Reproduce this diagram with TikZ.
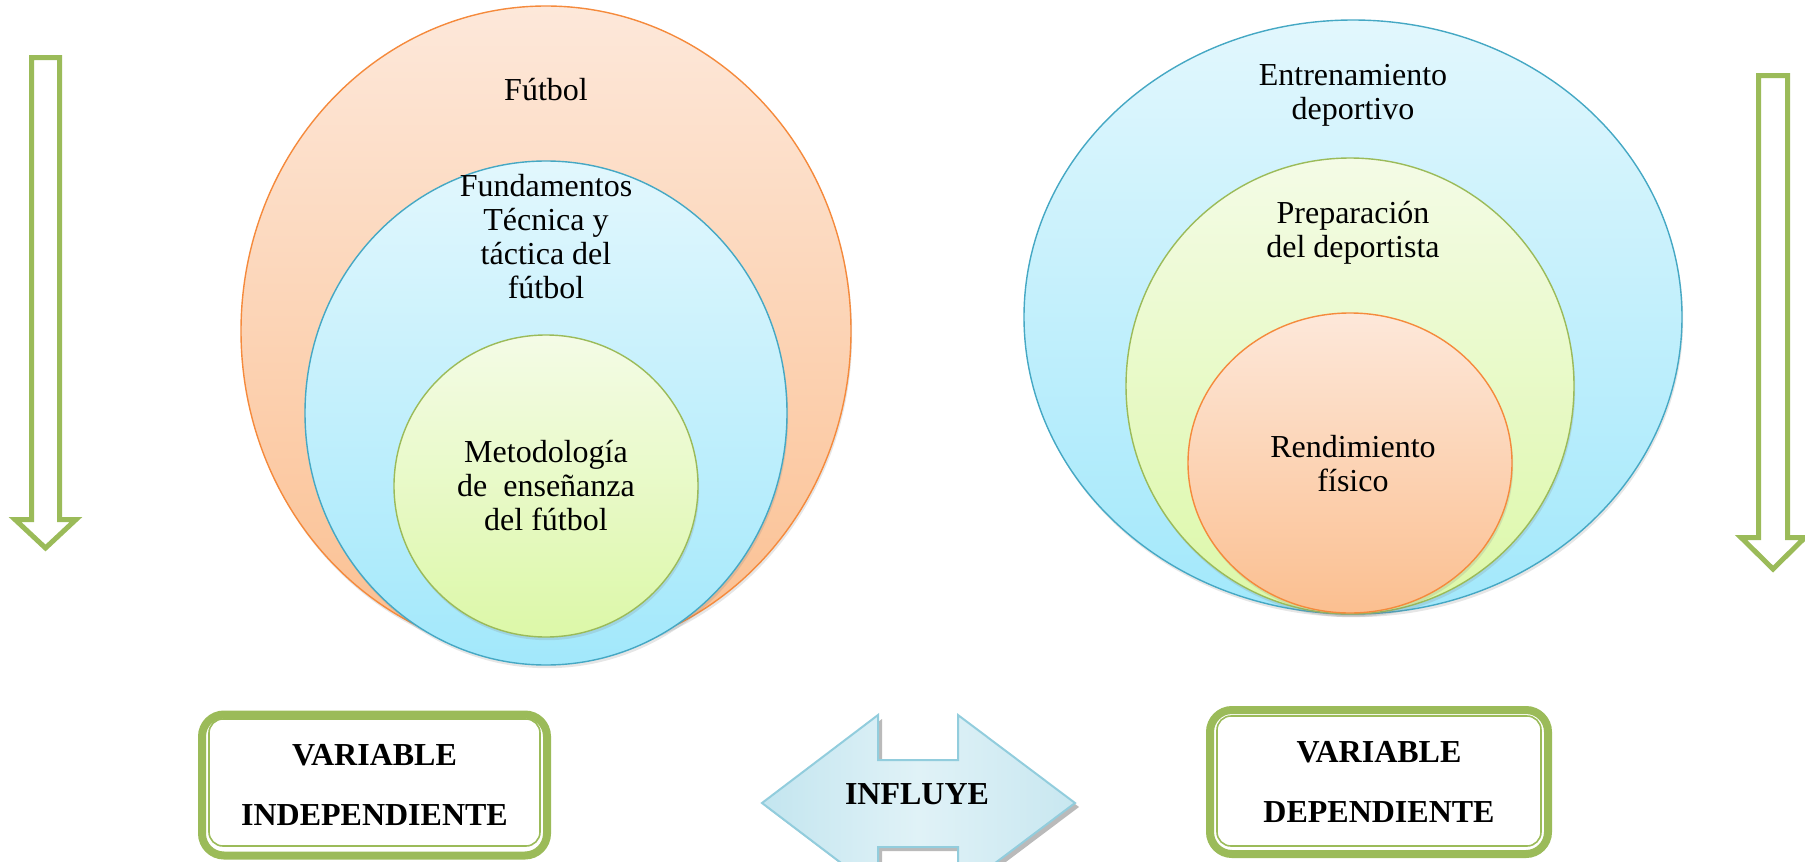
\documentclass[tikz,border=0pt]{standalone}
\usepackage{fontspec}
\setmainfont{Liberation Serif}
\usetikzlibrary{positioning}
\usetikzlibrary{shapes.geometric}
\usetikzlibrary{shadows}

\definecolor{orline}{HTML}{F58A3C}
\definecolor{ortop}{HTML}{FDE8DA}
\definecolor{orbot}{HTML}{FBBF90}
\definecolor{blline}{HTML}{45A8C4}
\definecolor{bltop}{HTML}{E2F7FD}
\definecolor{blbot}{HTML}{A2E8FB}
\definecolor{grline}{HTML}{9BBB59}
\definecolor{grtop}{HTML}{F4FBE6}
\definecolor{grbot}{HTML}{DCF8A8}
\definecolor{vgreen}{HTML}{9BBB59}
\definecolor{arrline}{HTML}{92CDDD}
\definecolor{arrleft}{HTML}{C3E5EF}
\definecolor{arrmid}{HTML}{E0F2F7}
\definecolor{arrright}{HTML}{C8E7F0}

\begin{document}
\begin{tikzpicture}[
    x=0.5pt, y=-0.5pt,
    ell/.style={ellipse, inner sep=0, line width=0.7pt,
        drop shadow={opacity=0.2, shadow xshift=0.6pt, shadow yshift=-1.6pt}},
    orell/.style={ell, draw=orline, top color=ortop, bottom color=orbot},
    blell/.style={ell, draw=blline, top color=bltop, bottom color=blbot},
    grell/.style={ell, draw=grline, top color=grtop, bottom color=grbot},
    lbl/.style={align=center, inner sep=0, font=\fontsize{16}{17}\selectfont},
    vbox/.style={draw=vgreen, line width=4pt, rounded corners=11pt, inner sep=0,
        align=center, font=\fontsize{16}{30}\selectfont\bfseries},
    vinner/.style={draw=vgreen, line width=0.8pt, rounded corners=7pt, inner sep=0},
    darrow/.style={draw=vgreen, line width=2.5pt, fill=white, miter limit=10}
]
\useasboundingbox (0,0) rectangle (1805,862);
\clip (0,0) rectangle (1805,862);

% Independent variable circles
\node[orell, minimum width=305pt, minimum height=325pt] (fut) at (546,331) {};
\node[blell, minimum width=241pt, minimum height=252pt] (fund) at (546,413) {};
\node[grell, minimum width=152pt, minimum height=151pt] (metod) at (546,486) {};
\node[lbl] (tfut) at (546,90) {Fútbol};
\node[lbl] (tfund) at (546,237) {Fundamentos\\Técnica y\\táctica del\\fútbol};
\node[lbl] (tmetod) at (546,486) {Metodología\\de~ enseñanza\\del fútbol};

% Dependent variable circles
\node[blell, minimum width=329pt, minimum height=297pt] (entr) at (1353,317) {};
\node[grell, minimum width=224pt, minimum height=228pt] (prep) at (1350,386) {};
\node[orell, minimum width=162pt, minimum height=150pt] (rend) at (1350,463) {};
\node[lbl] (tentr) at (1353,95) {Entrenamiento\\deportivo};
\node[lbl] (tprep) at (1353,233) {Preparación\\del deportista};
\node[lbl] (trend) at (1353,464) {Rendimiento\\físico};

% Side arrows
\draw[darrow] (31.5,57.5) -- (59.5,57.5) -- (59.5,519.5) -- (76,519.5)
    -- (45.5,548) -- (15,519.5) -- (31.5,519.5) -- cycle;
\draw[darrow] (1758.5,75.5) -- (1787.5,75.5) -- (1787.5,537.5) -- (1805,537.5)
    -- (1773,569) -- (1741,537.5) -- (1758.5,537.5) -- cycle;

% Variable boxes
\node[vbox, minimum width=172.5pt, minimum height=70.5pt] (vind) at (374.5,785) {VARIABLE\\INDEPENDIENTE};
\node[vinner, minimum width=165.5pt, minimum height=63.5pt] at (374.5,782.5) {};
\node[vbox, minimum width=169pt, minimum height=72pt] (vdep) at (1379,782) {VARIABLE\\DEPENDIENTE};
\node[vinner, minimum width=162pt, minimum height=65pt] at (1379,781) {};

% Influye
\fill[black!45, opacity=0.6] (766,807) -- (882,719) -- (882,764) -- (962,764) -- (962,719)
    -- (1079,807) -- (962,895) -- (962,851) -- (882,851) -- (882,895) -- cycle;
\draw[draw=arrline, line width=1pt, left color=arrleft, right color=arrright, middle color=arrmid]
    (762,803) -- (878,715) -- (878,760) -- (958,760) -- (958,715)
    -- (1075,803) -- (958,891) -- (958,847) -- (878,847) -- (878,891) -- cycle;
\node[font=\fontsize{16}{19}\selectfont\bfseries, inner sep=0] (infl) at (917,794) {INFLUYE};
\end{tikzpicture}
\end{document}
